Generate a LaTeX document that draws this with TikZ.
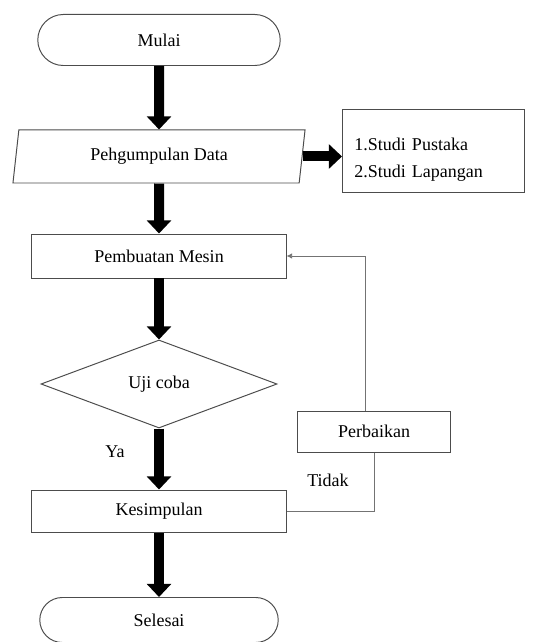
\documentclass[tikz,border=0pt]{standalone}
\usepackage{fontspec}
\setmainfont{Liberation Serif}
\usetikzlibrary{arrows.meta,calc,shapes.geometric,shapes.misc}

\begin{document}
\begin{tikzpicture}[x=0.025cm, y=-0.025cm, font=\fontsize{12.8}{19.2}\selectfont,
    box/.style={draw=black!70, line width=0.7pt, minimum width=6.35cm, minimum height=1.1cm, inner sep=2pt},
    term/.style={box, rounded rectangle, minimum width=6.2cm, minimum height=1.275cm},
    io/.style={box, trapezium, trapezium left angle=75, trapezium right angle=105,
      trapezium stretches body, minimum width=7.3cm, minimum height=1.325cm},
    cond/.style={box, diamond, minimum width=5.9cm, minimum height=2.2cm, inner sep=0pt},
    flow/.style={-{Triangle[length=0.33cm,width=0.6cm]}, line width=0.25cm},
    fb/.style={draw=black!55, line width=0.6pt, -{Latex[length=4pt,width=4pt]}}]
  \def\cx{159}     % x of the main column
  \useasboundingbox (0,0) rectangle (551,642);
  % main column
  \node[term] (mulai) at (\cx,40) {Mulai};
  \node[io] (data) at (\cx,156.5) {Pehgumpulan Data};
  \node[box, minimum width=4.55cm, minimum height=2.05cm, inner xsep=0.3cm,
    text width=3.95cm, align=left] (studi) at (433.5,151)
    {\rule{0pt}{0.77cm}1.Studi Pustaka\\2.Studi Lapangan};
  \node[box] (mesin) at (\cx,256) {Pembuatan Mesin};
  \node[cond] (uji) at (\cx,384) {Uji coba};
  \node[box, minimum width=3.8cm, minimum height=1.025cm] (perbaikan) at (374,431.5) {Perbaikan};
  \node[box, minimum height=1.05cm] (kesimpulan) at (\cx,511) {Kesimpulan};
  \node[term, minimum width=6.1cm, minimum height=1.125cm] (selesai) at (\cx,620) {Selesai};
  % branch labels
  \node (ya) at (115,452) {Ya};
  \node (tidak) at (328,480) {Tidak};
  % flow
  \draw[flow] (mulai.south) -- (data.north);
  \draw[flow] (data.east) -- (data.east -| studi.west);
  \draw[flow] (data.south) -- (mesin.north);
  \draw[flow] (mesin.south) -- (uji.north);
  \draw[flow] (uji.south) -- (kesimpulan.north);
  \draw[flow] (kesimpulan.south) -- (selesai.north);
  % loop back through Perbaikan
  \draw[fb, -] (kesimpulan.east) -| (perbaikan.south);
  \draw[fb] ($(perbaikan.north)+(-9,0)$) |- (mesin.east);
\end{tikzpicture}
\end{document}
